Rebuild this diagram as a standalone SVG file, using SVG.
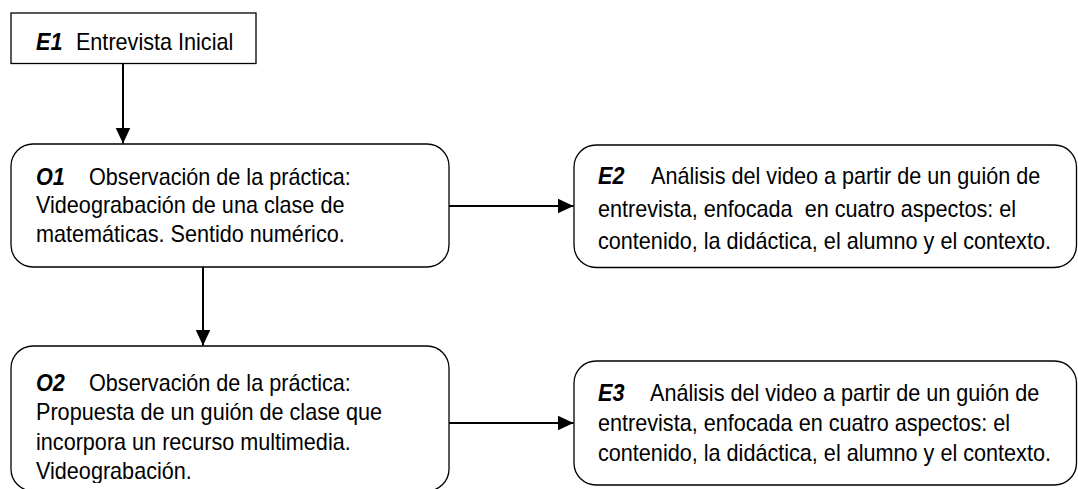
<svg xmlns="http://www.w3.org/2000/svg" width="1078" height="489" viewBox="0 0 1078 489">
  <style>
    .box { fill: #ffffff; stroke: #000000; stroke-width: 1.3; }
    .t { font-family: "Liberation Sans", Arial, sans-serif; font-size: 23px; fill: #000000; white-space: pre; }
    .bi { font-weight: bold; font-style: italic; }
    .conn { stroke: #000000; stroke-width: 2; fill: none; marker-end: url(#arrow); }
  </style>
  <defs>
    <marker id="arrow" markerUnits="userSpaceOnUse" markerWidth="17" markerHeight="16" refX="16" refY="7.5" orient="auto">
      <path d="M0,0 L16,7.5 L0,15 Z" fill="#000000"/>
    </marker>
    <clipPath id="clipO2">
      <rect x="0" y="346" width="460" height="137"/>
    </clipPath>
  </defs>
  <rect x="0" y="0" width="1078" height="489" fill="#ffffff"/>

  <g id="connectors">
    <line class="conn" x1="123" y1="63.5" x2="123" y2="143.5"/>
    <line class="conn" x1="203" y1="267" x2="203" y2="345.5"/>
    <line class="conn" x1="449" y1="206" x2="573.5" y2="206"/>
    <line class="conn" x1="449" y1="423" x2="573.5" y2="423"/>
  </g>

  <g id="E1">
    <rect class="box" x="11" y="13" width="245" height="50.5"/>
    <text class="t" transform="translate(36,50) scale(0.94,1)"><tspan class="bi">E1</tspan><tspan x="42.5">Entrevista Inicial</tspan></text>
  </g>

  <g id="O1">
    <rect class="box" x="11" y="144" width="438" height="123" rx="22" ry="22"/>
    <text class="t" transform="translate(36,184.5) scale(0.94,1)"><tspan class="bi">O1</tspan><tspan x="56.4">Observación de la práctica:</tspan></text>
    <text class="t" transform="translate(36,213) scale(0.94,1)">Videograbación de una clase de</text>
    <text class="t" transform="translate(36,241.5) scale(0.94,1)">matemáticas. Sentido numérico.</text>
  </g>

  <g id="E2">
    <rect class="box" x="574" y="145" width="502.5" height="122.5" rx="22" ry="22"/>
    <text class="t" transform="translate(598,184) scale(0.94,1)"><tspan class="bi">E2</tspan><tspan x="56.4">Análisis del video a partir de un guión de</tspan></text>
    <text class="t" transform="translate(598,216.5) scale(0.94,1)">entrevista, enfocada  en cuatro aspectos: el</text>
    <text class="t" transform="translate(598,248.5) scale(0.94,1)">contenido, la didáctica, el alumno y el contexto.</text>
  </g>

  <g id="O2">
    <rect class="box" x="11" y="346" width="438" height="145" rx="22" ry="22"/>
    <g clip-path="url(#clipO2)">
      <text class="t" transform="translate(36,390.5) scale(0.94,1)"><tspan class="bi">O2</tspan><tspan x="56.4">Observación de la práctica:</tspan></text>
      <text class="t" transform="translate(36,420) scale(0.94,1)">Propuesta de un guión de clase que</text>
      <text class="t" transform="translate(36,449.5) scale(0.94,1)">incorpora un recurso multimedia.</text>
      <text class="t" transform="translate(36,479) scale(0.94,1)">Videograbación.</text>
    </g>
  </g>

  <g id="E3">
    <rect class="box" x="574" y="361" width="502.5" height="124" rx="22" ry="22"/>
    <text class="t" transform="translate(598,401) scale(0.94,1)"><tspan class="bi">E3</tspan><tspan x="55.3">Análisis del video a partir de un guión de</tspan></text>
    <text class="t" transform="translate(598,431) scale(0.94,1)">entrevista, enfocada en cuatro aspectos: el</text>
    <text class="t" transform="translate(598,460.5) scale(0.94,1)">contenido, la didáctica, el alumno y el contexto.</text>
  </g>
</svg>
